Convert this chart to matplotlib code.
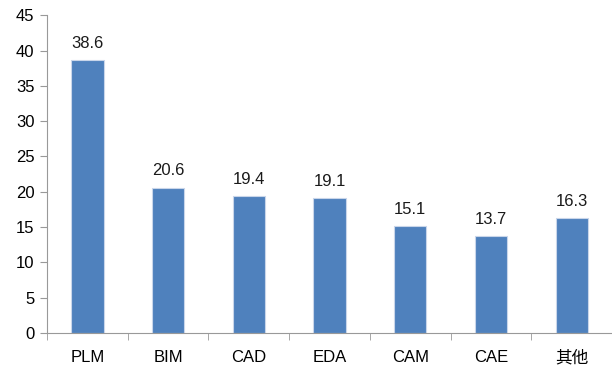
import matplotlib.pyplot as plt
import numpy as np

# categories and values
categories = ['PLM', 'BIM', 'CAD', 'EDA', 'CAM', 'CAE', '其他']
values = [38.6, 20.6, 19.4, 19.1, 15.1, 13.7, 16.3]

plt.rcParams['font.family'] = ['Liberation Sans', 'Noto Sans CJK SC']

fig = plt.figure(figsize=(6.12, 3.67), dpi=100)
ax = fig.add_axes([0.0768, 0.0926, 0.9232, 0.866])

x = np.arange(len(categories))
bars = ax.bar(x, values, width=0.4, color='#4F81BD', edgecolor='#C9D6EA', linewidth=0.8)

for xi, v in zip(x, values):
    ax.text(xi, v + 1.3, f'{v:.1f}', ha='center', va='bottom', fontsize=12, color='#1a1a1a')

ax.set_xlim(-0.5, len(categories) - 0.5)
ax.set_ylim(0, 45)
ax.set_yticks(np.arange(0, 46, 5))
ax.set_xticks(x)
ax.set_xticklabels(categories)
ax.set_xticks(np.arange(-0.5, len(categories), 1), minor=True)

ax.tick_params(axis='x', which='major', length=0, pad=12, labelsize=12)
ax.tick_params(axis='x', which='minor', length=5, color='#999999', direction='out')
ax.tick_params(axis='y', length=5, color='#999999', labelsize=12, pad=4)

for side in ['top', 'right']:
    ax.spines[side].set_visible(False)
for side in ['left', 'bottom']:
    ax.spines[side].set_color('#999999')

fig.savefig('out.png', dpi=100)
